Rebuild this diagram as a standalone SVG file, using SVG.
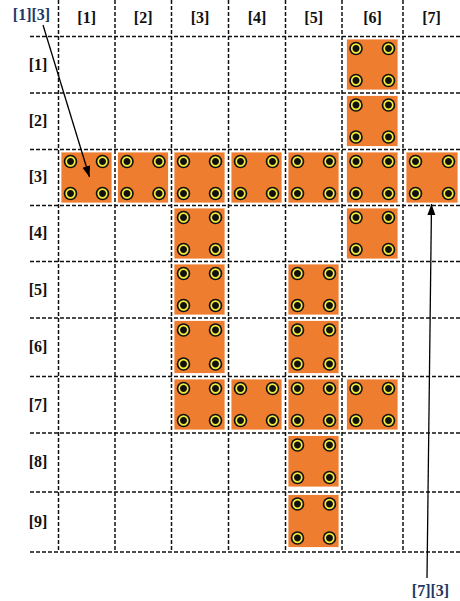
<svg xmlns="http://www.w3.org/2000/svg" xmlns:xlink="http://www.w3.org/1999/xlink" width="460" height="601" viewBox="0 0 460 601">
<style>
.grid{stroke:#111;stroke-width:1.5;stroke-dasharray:4 2;fill:none}
.tile{fill:#EE7D30;stroke:#fff;stroke-width:0.8}
.lbl{font-family:"Liberation Serif","Times New Roman",serif;font-weight:bold;font-size:16px;fill:#111;text-anchor:middle}
.call{font-family:"Liberation Serif","Times New Roman",serif;font-weight:bold;font-size:16px;fill:#1F3864;text-anchor:middle}
.arrow{stroke:#000;stroke-width:1.3;fill:none;marker-end:url(#ah)}
</style>
<defs>
<marker id="ah" markerUnits="userSpaceOnUse" markerWidth="12" markerHeight="10" refX="11" refY="4" orient="auto">
<path d="M0,0 L11,4 L0,8 Z" fill="#000"/>
</marker>
<g id="pin">
<circle r="6.8" fill="#111"/>
<circle r="4.3" fill="#111" stroke="#F2EA3A" stroke-width="1.7"/>
</g>
</defs>
<rect width="460" height="601" fill="#fff"/>
<g id="grid">
<path class="grid" d="M58.5,0V552M115,0V552M171.5,0V552M228.5,0V552M285.5,0V552M342,0V552M403,0V552"/>
<path class="grid" d="M30,36.5H460M30,93H460M30,149.5H460M30,205.5H460M30,261.5H460M30,318H460M30,376.5H460M30,433H460M30,492H460M30,552H460"/>
</g>
<g id="col-labels">
<text class="lbl" x="86.7" y="23">[1]</text>
<text class="lbl" x="143.2" y="23">[2]</text>
<text class="lbl" x="200" y="23">[3]</text>
<text class="lbl" x="257" y="23">[4]</text>
<text class="lbl" x="313.7" y="23">[5]</text>
<text class="lbl" x="372.5" y="23">[6]</text>
<text class="lbl" x="431.5" y="23">[7]</text>
</g>
<g id="row-labels">
<text class="lbl" x="38" y="70">[1]</text>
<text class="lbl" x="38" y="126">[2]</text>
<text class="lbl" x="38" y="182">[3]</text>
<text class="lbl" x="38" y="238">[4]</text>
<text class="lbl" x="38" y="295">[5]</text>
<text class="lbl" x="38" y="352">[6]</text>
<text class="lbl" x="38" y="410">[7]</text>
<text class="lbl" x="38" y="467">[8]</text>
<text class="lbl" x="38" y="527">[9]</text>
</g>
<g id="tiles">
<g id="t6-1"><rect class="tile" x="346.5" y="39" width="51.5" height="51"/><use xlink:href="#pin" x="356" y="48.5"/><use xlink:href="#pin" x="388.5" y="48.5"/><use xlink:href="#pin" x="356" y="80.5"/><use xlink:href="#pin" x="388.5" y="80.5"/></g>
<g id="t6-2"><rect class="tile" x="346.5" y="95.5" width="51.5" height="51"/><use xlink:href="#pin" x="356" y="105"/><use xlink:href="#pin" x="388.5" y="105"/><use xlink:href="#pin" x="356" y="137"/><use xlink:href="#pin" x="388.5" y="137"/></g>
<g id="t1-3"><rect class="tile" x="61" y="152" width="51" height="51"/><use xlink:href="#pin" x="70.5" y="161.5"/><use xlink:href="#pin" x="102.5" y="161.5"/><use xlink:href="#pin" x="70.5" y="193.5"/><use xlink:href="#pin" x="102.5" y="193.5"/></g>
<g id="t2-3"><rect class="tile" x="117.5" y="152" width="51" height="51"/><use xlink:href="#pin" x="127" y="161.5"/><use xlink:href="#pin" x="159" y="161.5"/><use xlink:href="#pin" x="127" y="193.5"/><use xlink:href="#pin" x="159" y="193.5"/></g>
<g id="t3-3"><rect class="tile" x="174" y="152" width="51" height="51"/><use xlink:href="#pin" x="183.5" y="161.5"/><use xlink:href="#pin" x="215.5" y="161.5"/><use xlink:href="#pin" x="183.5" y="193.5"/><use xlink:href="#pin" x="215.5" y="193.5"/></g>
<g id="t4-3"><rect class="tile" x="231" y="152" width="51" height="51"/><use xlink:href="#pin" x="240.5" y="161.5"/><use xlink:href="#pin" x="272.5" y="161.5"/><use xlink:href="#pin" x="240.5" y="193.5"/><use xlink:href="#pin" x="272.5" y="193.5"/></g>
<g id="t5-3"><rect class="tile" x="288" y="152" width="51" height="51"/><use xlink:href="#pin" x="297.5" y="161.5"/><use xlink:href="#pin" x="329.5" y="161.5"/><use xlink:href="#pin" x="297.5" y="193.5"/><use xlink:href="#pin" x="329.5" y="193.5"/></g>
<g id="t6-3"><rect class="tile" x="346.5" y="152" width="51.5" height="51"/><use xlink:href="#pin" x="356" y="161.5"/><use xlink:href="#pin" x="388.5" y="161.5"/><use xlink:href="#pin" x="356" y="193.5"/><use xlink:href="#pin" x="388.5" y="193.5"/></g>
<g id="t7-3"><rect class="tile" x="406" y="152" width="52" height="51"/><use xlink:href="#pin" x="415.5" y="161.5"/><use xlink:href="#pin" x="448.5" y="161.5"/><use xlink:href="#pin" x="415.5" y="193.5"/><use xlink:href="#pin" x="448.5" y="193.5"/></g>
<g id="t3-4"><rect class="tile" x="174" y="208" width="51" height="51"/><use xlink:href="#pin" x="183.5" y="217.5"/><use xlink:href="#pin" x="215.5" y="217.5"/><use xlink:href="#pin" x="183.5" y="249.5"/><use xlink:href="#pin" x="215.5" y="249.5"/></g>
<g id="t6-4"><rect class="tile" x="346.5" y="208" width="51.5" height="51"/><use xlink:href="#pin" x="356" y="217.5"/><use xlink:href="#pin" x="388.5" y="217.5"/><use xlink:href="#pin" x="356" y="249.5"/><use xlink:href="#pin" x="388.5" y="249.5"/></g>
<g id="t3-5"><rect class="tile" x="174" y="264" width="51" height="51"/><use xlink:href="#pin" x="183.5" y="273.5"/><use xlink:href="#pin" x="215.5" y="273.5"/><use xlink:href="#pin" x="183.5" y="305.5"/><use xlink:href="#pin" x="215.5" y="305.5"/></g>
<g id="t5-5"><rect class="tile" x="288" y="264" width="51" height="51"/><use xlink:href="#pin" x="297.5" y="273.5"/><use xlink:href="#pin" x="329.5" y="273.5"/><use xlink:href="#pin" x="297.5" y="305.5"/><use xlink:href="#pin" x="329.5" y="305.5"/></g>
<g id="t3-6"><rect class="tile" x="174" y="320.5" width="51" height="53"/><use xlink:href="#pin" x="183.5" y="330"/><use xlink:href="#pin" x="215.5" y="330"/><use xlink:href="#pin" x="183.5" y="364"/><use xlink:href="#pin" x="215.5" y="364"/></g>
<g id="t5-6"><rect class="tile" x="288" y="320.5" width="51" height="53"/><use xlink:href="#pin" x="297.5" y="330"/><use xlink:href="#pin" x="329.5" y="330"/><use xlink:href="#pin" x="297.5" y="364"/><use xlink:href="#pin" x="329.5" y="364"/></g>
<g id="t3-7"><rect class="tile" x="174" y="379" width="51" height="51"/><use xlink:href="#pin" x="183.5" y="388.5"/><use xlink:href="#pin" x="215.5" y="388.5"/><use xlink:href="#pin" x="183.5" y="420.5"/><use xlink:href="#pin" x="215.5" y="420.5"/></g>
<g id="t4-7"><rect class="tile" x="231" y="379" width="51" height="51"/><use xlink:href="#pin" x="240.5" y="388.5"/><use xlink:href="#pin" x="272.5" y="388.5"/><use xlink:href="#pin" x="240.5" y="420.5"/><use xlink:href="#pin" x="272.5" y="420.5"/></g>
<g id="t5-7"><rect class="tile" x="288" y="379" width="51" height="51"/><use xlink:href="#pin" x="297.5" y="388.5"/><use xlink:href="#pin" x="329.5" y="388.5"/><use xlink:href="#pin" x="297.5" y="420.5"/><use xlink:href="#pin" x="329.5" y="420.5"/></g>
<g id="t6-7"><rect class="tile" x="346.5" y="379" width="51.5" height="51"/><use xlink:href="#pin" x="356" y="388.5"/><use xlink:href="#pin" x="388.5" y="388.5"/><use xlink:href="#pin" x="356" y="420.5"/><use xlink:href="#pin" x="388.5" y="420.5"/></g>
<g id="t5-8"><rect class="tile" x="288" y="435.5" width="51" height="51.5"/><use xlink:href="#pin" x="297.5" y="445"/><use xlink:href="#pin" x="329.5" y="445"/><use xlink:href="#pin" x="297.5" y="477.5"/><use xlink:href="#pin" x="329.5" y="477.5"/></g>
<g id="t5-9"><rect class="tile" x="288" y="494.5" width="51" height="53"/><use xlink:href="#pin" x="297.5" y="504"/><use xlink:href="#pin" x="329.5" y="504"/><use xlink:href="#pin" x="297.5" y="538"/><use xlink:href="#pin" x="329.5" y="538"/></g>
</g>
<g id="callout-1-3"><text class="call" x="31.5" y="20">[1][3]</text></g>
<g id="callout-7-3"><text class="call" x="430.5" y="596">[7][3]</text></g>
<g id="connectors">
<path class="arrow" d="M43,25 L89.5,177"/>
<path class="arrow" d="M427,578 L431.5,204"/>
</g>
</svg>
